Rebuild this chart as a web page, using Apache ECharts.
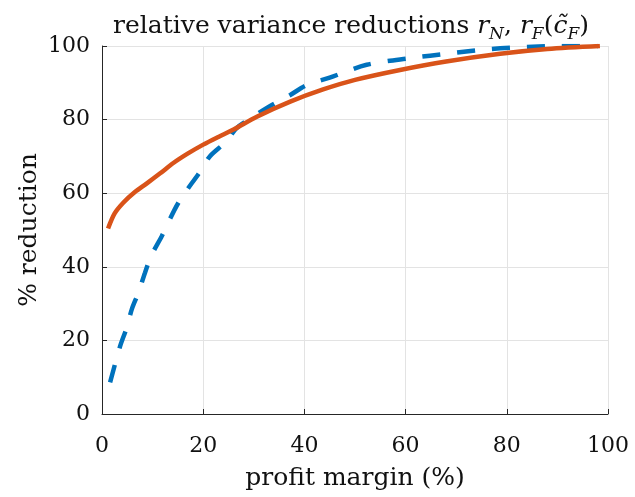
<!DOCTYPE html>
<html>
<head>
<meta charset="utf-8">
<script src="https://cdn.jsdelivr.net/npm/echarts@6/dist/echarts.min.js"></script>
<style>
html,body{margin:0;padding:0;background:#fff;}
#c{width:635px;height:497px;}
</style>
</head>
<body>
<div id="c"></div>
<script>
// Data
var rN_x = [1.6, 3.6, 4.9, 5.9, 7.2, 8.5, 9.7, 11.8, 15.1, 19.4, 21.3, 24.6, 26.6, 29.9, 32.5, 37.2, 40.5, 45, 52.3, 60.9, 68.8, 76, 82, 90.5, 98];
var rN_y = [8.6, 18.5, 23.5, 28.5, 33, 38.4, 42.9, 48.3, 57.4, 65.9, 70, 74.1, 77.7, 80.8, 83.1, 86.7, 89.4, 91.4, 94.9, 96.7, 98, 99.1, 99.6, 100, 100];
var rF_x = [1.2, 2.5, 4.2, 6.5, 8.8, 11.5, 14.1, 17, 20, 23, 26, 30.6, 37.2, 43.7, 50, 58.9, 68, 78.7, 88, 98.4];
var rF_y = [50.4, 54.5, 57.4, 60.3, 62.6, 65.4, 68.2, 70.8, 73.2, 75.3, 77.3, 80.8, 84.9, 88.2, 90.8, 93.5, 95.8, 97.9, 99.2, 100];
var xTicks = [0, 20, 40, 60, 80, 100];
var yTicks = [0, 20, 40, 60, 80, 100];

function pairs(xs, ys) { return xs.map(function (x, i) { return [x, ys[i]]; }); }

var FONT = '"DejaVu Serif", "Liberation Serif", serif';
var chart = echarts.init(document.getElementById('c'), null, {renderer: 'canvas'});
var axisCommon = {
  type: 'value', min: 0, max: 100, interval: 20,
  axisLine: {show: true, onZero: false, lineStyle: {color: '#262626', width: 1}},
  axisTick: {show: true, inside: true, length: 5, lineStyle: {color: '#262626'}},
  splitLine: {show: true, lineStyle: {color: '#e3e3e3', width: 1}},
  axisLabel: {color: '#111', fontFamily: FONT, fontSize: 22}
};
chart.setOption({
  animation: false,
  backgroundColor: '#fff',
  title: {
    text: '{n|relative variance reductions }{i|r}{s|N}{n|, }{i|r}{s|F}{n|(}{i|c\u0303}{s|F}{n|)}',
    left: 346, top: 4, textAlign: 'center',
    textStyle: {
      fontWeight: 'normal',
      rich: {
        n: {fontFamily: FONT, fontSize: 25, fontWeight: 'normal', color: '#111', lineHeight: 34, verticalAlign: 'middle'},
        i: {fontFamily: FONT, fontSize: 25, fontWeight: 'normal', fontStyle: 'italic', color: '#111', lineHeight: 34, verticalAlign: 'middle'},
        s: {fontFamily: FONT, fontSize: 17, fontWeight: 'normal', fontStyle: 'italic', color: '#111', lineHeight: 34, verticalAlign: 'bottom'}
      }
    }
  },
  grid: {left: 102, right: 27, top: 46, bottom: 83, containLabel: false},
  xAxis: Object.assign({}, axisCommon, {
    name: 'profit margin (%)', nameLocation: 'middle', nameGap: 52, nameMoveOverlap: false,
    nameTextStyle: {fontFamily: FONT, fontSize: 25, color: '#111'},
    axisLabel: Object.assign({}, axisCommon.axisLabel, {margin: 21, formatter: function (v) { return xTicks.indexOf(v) >= 0 ? String(v) : ''; }})
  }),
  yAxis: Object.assign({}, axisCommon, {
    name: '% reduction', nameLocation: 'middle', nameGap: 60, nameRotate: 90, nameMoveOverlap: false,
    nameTextStyle: {fontFamily: FONT, fontSize: 25, color: '#111'},
    axisLabel: Object.assign({}, axisCommon.axisLabel, {margin: 12, formatter: function (v) { return yTicks.indexOf(v) >= 0 ? String(v) : ''; }})
  }),
  series: [
    {
      type: 'line', data: pairs(rN_x, rN_y), smooth: 0.3, showSymbol: false, symbol: 'none',
      lineStyle: {color: '#0072BD', width: 4.5, type: [18, 17], cap: 'butt'}, z: 2
    },
    {
      type: 'line', data: pairs(rF_x, rF_y), smooth: 0.3, showSymbol: false, symbol: 'none',
      lineStyle: {color: '#D95319', width: 4.5, type: 'solid'}, z: 3
    }
  ]
});
</script>
</body>
</html>
